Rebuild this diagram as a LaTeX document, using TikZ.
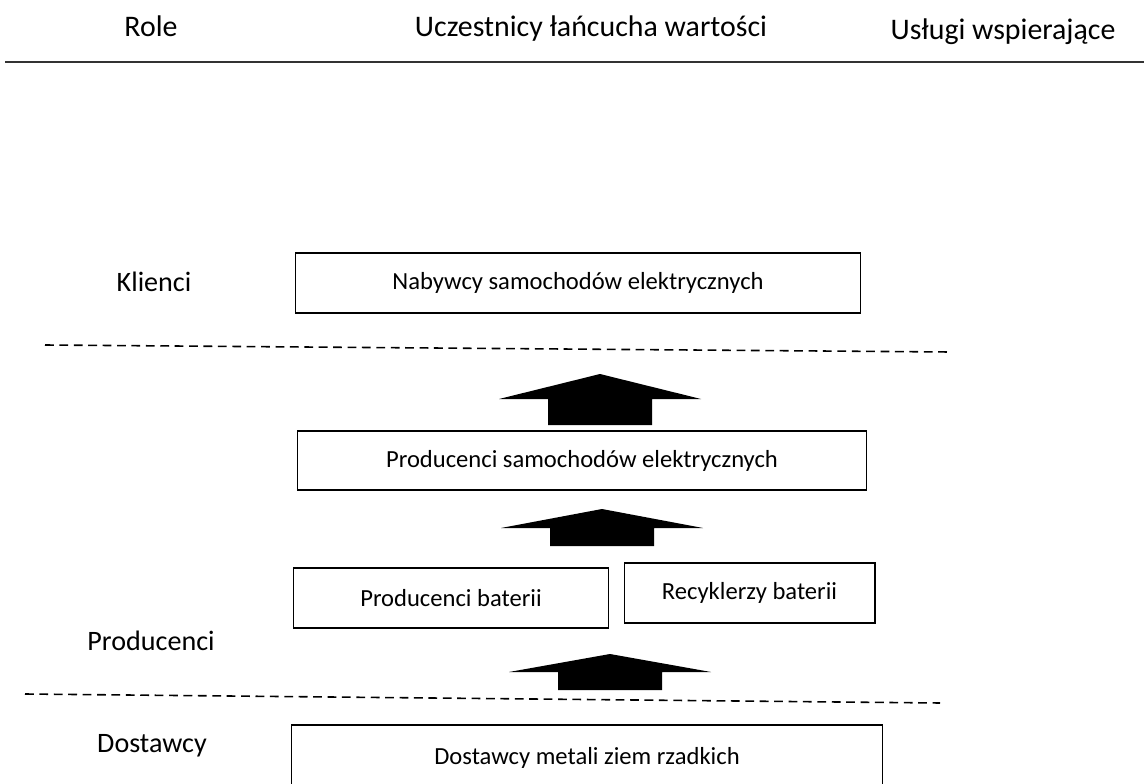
\documentclass[tikz,border=0pt]{standalone}
\usepackage{fontspec}
\setmainfont{Carlito}
\usetikzlibrary{positioning}

\begin{document}
\begin{tikzpicture}[x=0.02cm,y=-0.02cm,
  rolelbl/.style={font=\fontsize{16}{19}\selectfont,inner sep=0pt},
  headlbl/.style={font=\fontsize{17}{20}\selectfont,inner sep=0pt,anchor=base},
  actor/.style={draw=black,line width=0.6pt,fill=white,font=\fontsize{14}{17}\selectfont,align=center,inner sep=2pt},
  sepline/.style={line width=0.9pt,dash pattern=on 5pt off 3.2pt}]
\useasboundingbox (0,0) rectangle (1144,784);
% header
\node[headlbl] (hrole) at (151,37) {Role};
\node[headlbl] (hchain) at (591,37) {Uczestnicy łańcucha wartości};
\node[headlbl] (hserv) at (1003,40) {Usługi wspierające};
\draw[line width=1.1pt,black!80] (5,62) -- (1144,62);
% roles
\node[rolelbl] (rkl) at (154,282) {Klienci};
\node[rolelbl] (rpr) at (151,641) {Producenci};
\node[rolelbl] (rdo) at (152,746) {Dostawcy};
% chain
\node[actor,minimum width=11.3cm,minimum height=1.2cm] (buyers) at (578,283) {Nabywcy samochodów elektrycznych};
\node[actor,minimum width=11.4cm,minimum height=1.18cm] (carmak) at (582,460.5) {Producenci samochodów elektrycznych};
\node[actor,minimum width=6.32cm,minimum height=1.2cm] (batmak) at (451,598) {Producenci baterii};
\node[actor,minimum width=5.02cm,minimum height=1.2cm] (batrec) at (749.5,593) {Recyklerzy baterii};
\node[actor,minimum width=11.84cm,minimum height=1.3cm] (metals) at (587,757.5) {Dostawcy metali ziem rzadkich};
% separators
\draw[sepline] (45,345) -- (950,352);
\draw[sepline] (25,694) -- (940,703);
% block arrows
\foreach \tx/\ty/\hd/\sh in {600/374/25/26, 602/509/19/18, 610/654/18/18}
  \fill (\tx,\ty) -- ++(101,\hd) -- ++(-49,0) -- ++(0,\sh) -- ++(-104,0) -- ++(0,-\sh) -- ++(-49,0) -- cycle;
\end{tikzpicture}
\end{document}
